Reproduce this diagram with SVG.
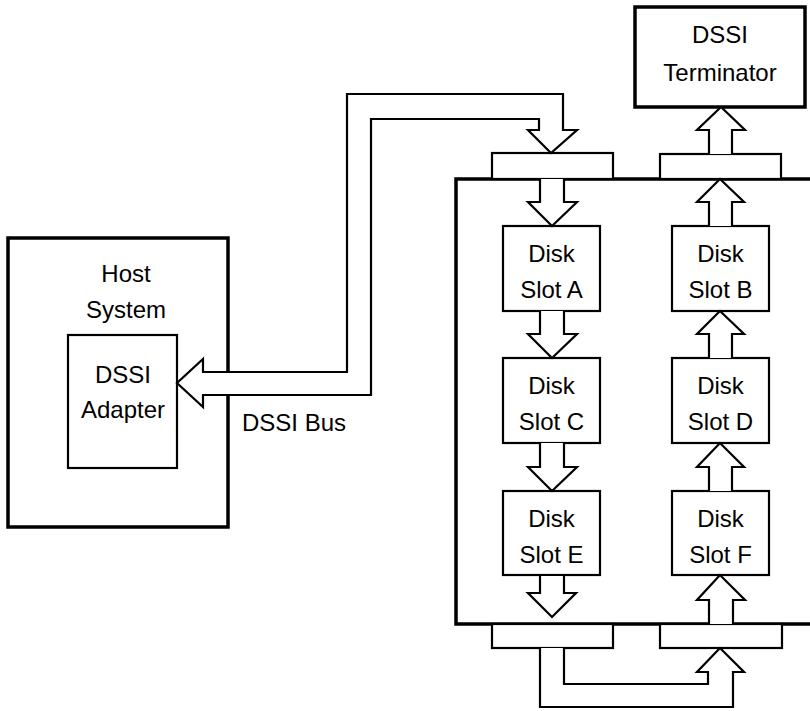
<svg xmlns="http://www.w3.org/2000/svg" width="810" height="711" viewBox="0 0 810 711">
<style>
.thick{fill:none;stroke:#000;stroke-width:3.5}
.thin{fill:#fff;stroke:#000;stroke-width:2.2}
.arrow{fill:#fff;stroke:#000;stroke-width:2.2;stroke-linejoin:miter}
text{font-family:"Liberation Sans",Arial,sans-serif;font-size:24px;fill:#000;text-anchor:middle}
</style>
<rect width="810" height="711" fill="#fff"/>
<g id="host">
<rect class="thick" x="8" y="238" width="220" height="289"/>
<text x="126" y="282">Host</text>
<text x="126" y="318">System</text>
</g>
<g id="adapter">
<rect class="thin" x="68" y="335" width="109" height="133"/>
<text x="123" y="383">DSSI</text>
<text x="123" y="418">Adapter</text>
</g>
<g id="enclosure">
<path class="thick" d="M820 179 H456 V624 H820"/>
</g>
<g id="terminator">
<rect class="thick" x="635" y="7" width="170" height="100"/>
<text x="720" y="43">DSSI</text>
<text x="720" y="81">Terminator</text>
</g>
<g id="conn-top-left"><rect class="thin" x="492" y="153" width="121" height="26"/></g>
<g id="conn-top-right"><rect class="thin" x="660" y="154" width="121" height="25"/></g>
<g id="conn-bottom-left"><rect class="thin" x="492" y="624" width="121" height="24"/></g>
<g id="conn-bottom-right"><rect class="thin" x="660" y="624" width="122" height="24"/></g>
<g id="slotA"><rect class="thin" x="503" y="226" width="97" height="85"/><text x="551.5" y="262">Disk</text><text x="551.5" y="298">Slot A</text></g>
<g id="slotB"><rect class="thin" x="672" y="226" width="97" height="85"/><text x="720.5" y="262">Disk</text><text x="720.5" y="298">Slot B</text></g>
<g id="slotC"><rect class="thin" x="503" y="358" width="97" height="85"/><text x="551.5" y="394">Disk</text><text x="551.5" y="430">Slot C</text></g>
<g id="slotD"><rect class="thin" x="672" y="358" width="97" height="85"/><text x="720.5" y="394">Disk</text><text x="720.5" y="430">Slot D</text></g>
<g id="slotE"><rect class="thin" x="503" y="491" width="97" height="84"/><text x="551.5" y="527">Disk</text><text x="551.5" y="563">Slot E</text></g>
<g id="slotF"><rect class="thin" x="672" y="491" width="97" height="84"/><text x="720.5" y="527">Disk</text><text x="720.5" y="563">Slot F</text></g>
<g id="connectors">
<path class="arrow" d="M203 372 H347 V94 H563 V130 H577 L551 153 L528 130 H539 V119 H371 V395 H203 V407 L177 383 L203 359 Z"/>
<path class="arrow" d="M540 648 V707 H733 V672 H744 L720 648 L697 672 H708 V684 H564 V648"/>
<path class="arrow" d="M540 179 V202 H528 L552 226 L577 202 H564 V179"/>
<path class="arrow" d="M540 311 V334 H528 L552 358 L577 334 H564 V311"/>
<path class="arrow" d="M540 443 V467 H528 L552 491 L577 467 H564 V443"/>
<path class="arrow" d="M540 575 V593 H528 L552 617 L576 593 H564 V575 Z"/>
<path class="arrow" d="M709 154 V130 H697 L721 107 L745 130 H732 V154"/>
<path class="arrow" d="M709 226 V202 H697 L720 179 L744 202 H732 V226"/>
<path class="arrow" d="M709 358 V334 H697 L720 311 L744 334 H732 V358"/>
<path class="arrow" d="M709 491 V467 H697 L720 443 L744 467 H732 V491"/>
<path class="arrow" d="M709 624 V600 H697 L720 575 L745 600 H733 V624"/>
<text x="242" y="431" style="text-anchor:start">DSSI Bus</text>
</g>
</svg>
